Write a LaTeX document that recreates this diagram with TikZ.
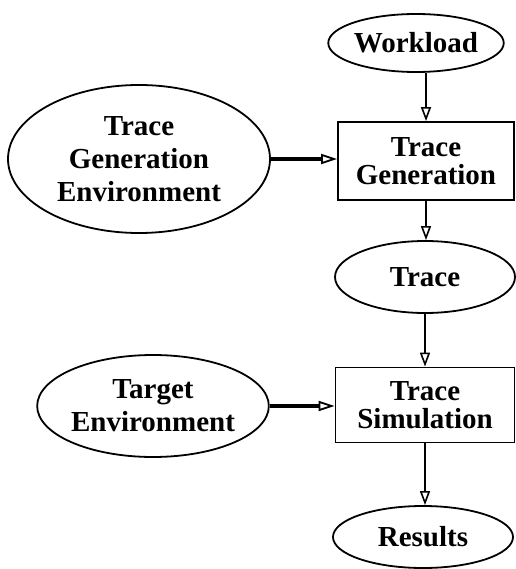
\documentclass[tikz,border=0pt]{standalone}
\usepackage{fontspec}
\setmainfont{Liberation Serif}
\usetikzlibrary{shapes.geometric,arrows.meta}

\begin{document}
\begin{tikzpicture}[x=1pt, y=-1pt,
    oval/.style={ellipse, draw, line width=1.8pt, inner sep=0pt, align=center,
        font=\fontsize{29}{33}\selectfont\bfseries},
    stage/.style={rectangle, draw, line width=1.8pt, inner sep=0pt, align=center,
        font=\fontsize{29}{28}\selectfont\bfseries},
    flow/.style={line width=1.8pt, -{Triangle[open, length=14pt, width=10pt, line width=1.6pt]}},
    feed/.style={line width=3.2pt, -{Triangle[open, length=16pt, width=10pt, line width=1.8pt]}}]
    \useasboundingbox (0,0) rectangle (515,569);

    % Main column
    \node[oval, minimum width=155pt, minimum height=58pt] (wl) at (416,43) {Workload};
    \node[stage, minimum width=176pt, minimum height=78pt] (tgen) at (426,161) {Trace\\Generation};
    \node[oval, minimum width=180pt, minimum height=72pt] (trace) at (425,277) {Trace};
    \node[stage, minimum width=179pt, minimum height=75pt] (tsim) at (425,405) {Trace\\Simulation};
    \node[oval, minimum width=180pt, minimum height=62pt] (res) at (423,537) {Results};

    % Environments
    \node[oval, minimum width=262pt, minimum height=148pt] (tge) at (139,159) {Trace\\Generation\\Environment};
    \node[oval, minimum width=227pt, minimum height=102pt] (tenv) at (153,406) {Target\\Environment};

    % Connections
    \draw[flow] (wl.south -| tgen.north) -- (tgen.north);
    \draw[flow] (tgen.south) -- (tgen.south |- trace.north);
    \draw[flow] (trace.south -| tsim.north) -- (tsim.north);
    \draw[flow] (tsim.south) -- (tsim.south |- res.north);
    \draw[feed] (tge.east) -- (tge.east -| tgen.west);
    \draw[feed] (tenv.east) -- (tenv.east -| tsim.west);
\end{tikzpicture}
\end{document}
